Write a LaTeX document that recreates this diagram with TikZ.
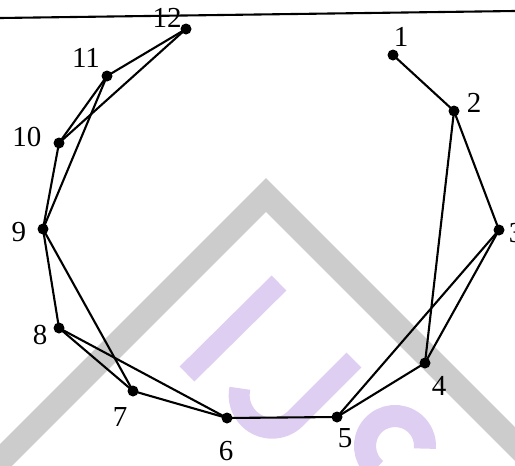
\documentclass[tikz,border=0pt]{standalone}
\usepackage{fontspec}
\setmainfont{Liberation Serif}
\usepackage{xcolor}
\definecolor{markgray}{RGB}{204,204,204}
\definecolor{marklilac}{RGB}{222,206,242}

\begin{document}
\begin{tikzpicture}[
      x=1pt, y=-1pt,
      dot/.style={circle, fill=black, inner sep=0pt, minimum size=11pt},
      lbl/.style={inner sep=0pt, font=\fontsize{29}{30}\selectfont},
      edge/.style={line width=2.1pt},
      wm/.style={line width=22pt, color=marklilac}
    ]
    \useasboundingbox (0,0) rectangle (515,466);
    % watermark
    \begin{scope}
      \clip (0,0) rectangle (515,466);
      \draw[line width=24pt, color=markgray, miter limit=10]
        (-30,491) -- (266,195) -- (560,489);
      \draw[wm, line width=21pt] (187,374) -- (279,283);
      \draw[wm, line width=21pt] (354,360) -- (295.5,418.5)
        arc[start angle=45, end angle=192, radius=33];
      \draw[wm] (395,446) ++(130:30)
        arc[start angle=130, end angle=365, radius=30];
    \end{scope}
    \coordinate (ruleL) at (0,18);
    \coordinate (ruleR) at (515,11);
    \draw[edge] (ruleL) -- (ruleR);
    % vertices
    \node[dot] (v1) at (393,55) {};
    \node[dot] (v2) at (454,111) {};
    \node[dot] (v3) at (499,230) {};
    \node[dot] (v4) at (425,363) {};
    \node[dot] (v5) at (337,417) {};
    \node[dot] (v6) at (227,418) {};
    \node[dot] (v7) at (133,391) {};
    \node[dot] (v8) at (59,328) {};
    \node[dot] (v9) at (43,229) {};
    \node[dot] (v10) at (59,143) {};
    \node[dot] (v11) at (107,76) {};
    \node[dot] (v12) at (186,29) {};
    % labels
    \node[lbl] (t1) at (401,37) {1};
    \node[lbl] (t2) at (474,103) {2};
    \node[lbl] (t3) at (516,233) {3};
    \node[lbl] (t4) at (439,386) {4};
    \node[lbl] (t5) at (345,438) {5};
    \node[lbl] (t6) at (226,451) {6};
    \node[lbl] (t7) at (120,417) {7};
    \node[lbl] (t8) at (40,335) {8};
    \node[lbl] (t9) at (19,232) {9};
    \node[lbl] (t10) at (27,137) {10};
    \node[lbl] (t11) at (86,58) {11};
    \node[lbl] (t12) at (167,18) {12};
    % edges
    \draw[edge] (v1.center) -- (v2.center);
    \draw[edge] (v2.center) -- (v3.center);
    \draw[edge] (v2.center) -- (v4.center);
    \draw[edge] (v3.center) -- (v4.center);
    \draw[edge] (v3.center) -- (v5.center);
    \draw[edge] (v4.center) -- (v5.center);
    \draw[edge] (v5.center) -- (v6.center);
    \draw[edge] (v6.center) -- (v7.center);
    \draw[edge] (v6.center) -- (v8.center);
    \draw[edge] (v7.center) -- (v8.center);
    \draw[edge] (v7.center) -- (v9.center);
    \draw[edge] (v8.center) -- (v9.center);
    \draw[edge] (v9.center) -- (v10.center);
    \draw[edge] (v9.center) -- (v11.center);
    \draw[edge] (v10.center) -- (v11.center);
    \draw[edge] (v10.center) -- (v12.center);
    \draw[edge] (v11.center) -- (v12.center);
  \end{tikzpicture}
\end{document}
